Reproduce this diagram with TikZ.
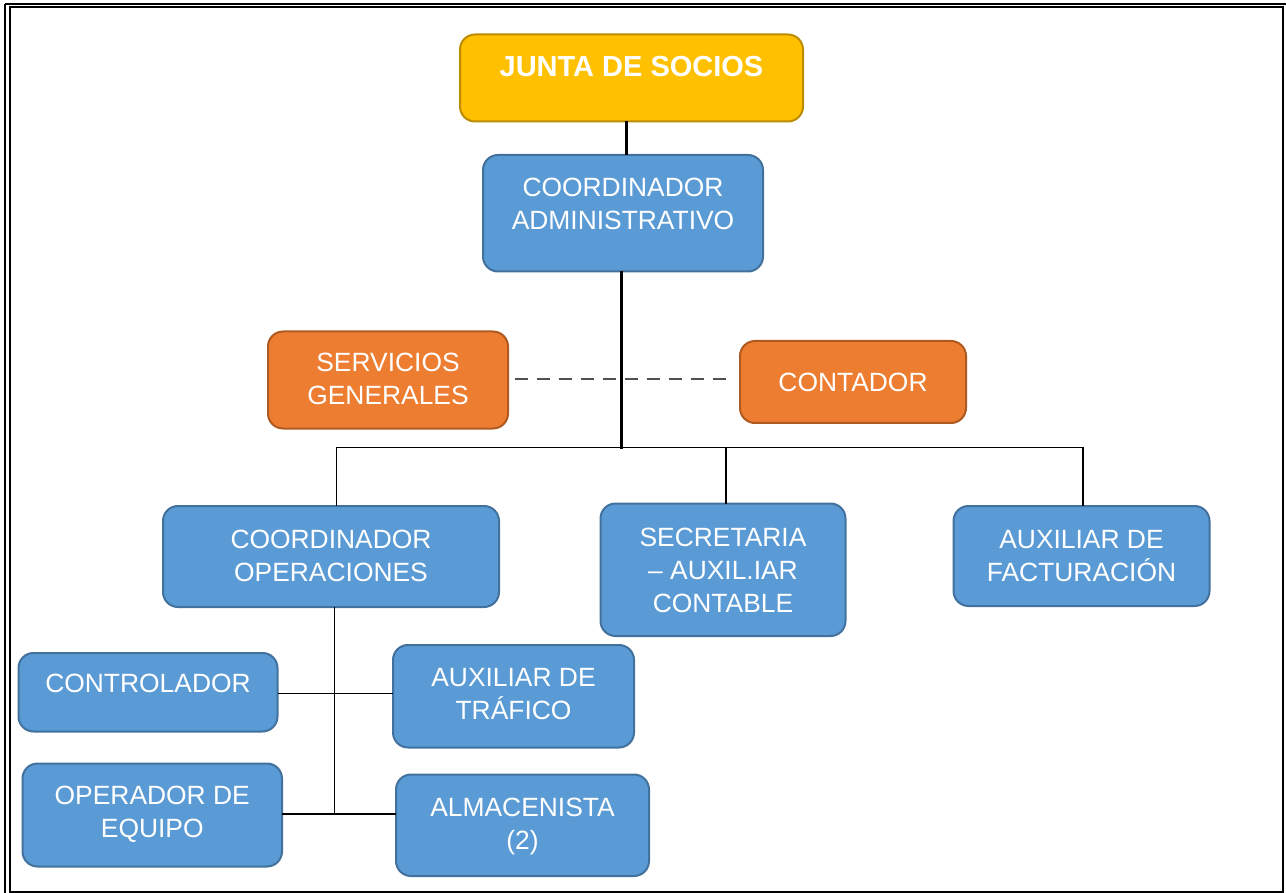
\documentclass[tikz,border=0pt]{standalone}
\usepackage{fontspec}
\setmainfont{Liberation Sans}
\definecolor{boxblue}{HTML}{5B9BD5}
\definecolor{boxblueline}{HTML}{41719C}
\definecolor{boxorange}{HTML}{ED7D31}
\definecolor{boxorangeline}{HTML}{AE5A21}
\definecolor{boxgold}{HTML}{FFC000}
\definecolor{boxgoldline}{HTML}{BC8C00}
\definecolor{dashgray}{HTML}{505050}
\begin{document}
\begin{tikzpicture}[x=1pt,y=-1pt,
  orgbox/.style={draw, rounded corners=15pt, line width=2pt, inner sep=0pt, outer sep=0pt},
  bluebox/.style={orgbox, fill=boxblue, draw=boxblueline},
  orangebox/.style={orgbox, fill=boxorange, draw=boxorangeline},
  goldbox/.style={orgbox, fill=boxgold, draw=boxgoldline},
  txt/.style={text=white, font=\fontsize{26.4}{33}\selectfont, inner sep=0pt, anchor=base},
  boldtxt/.style={txt, font=\fontsize{29}{34}\selectfont\bfseries},
  mainline/.style={line width=2.7pt, black},
  conn/.style={line width=1.5pt, black},
  dashline/.style={line width=2.3pt, dashgray, dash pattern=on 13pt off 9pt},
  frameline/.style={line width=2pt, black}
]
\useasboundingbox (0,0) rectangle (1286,893);
\clip (0,0) rectangle (1286,893);

% frame
\draw[frameline] (5.3,4) -- (1295,4);
\draw[frameline] (5.3,4) -- (5.3,900);
\draw[frameline] (9.7,7.5) rectangle (1282.5,891.5);

% boxes
\node[goldbox, minimum width=343pt, minimum height=87pt] (junta) at (631.5,78) {};
\node[bluebox, minimum width=280pt, minimum height=116.5pt] (admin) at (623,213.25) {};
\node[orangebox, minimum width=240pt, minimum height=97pt] (serv) at (388,380) {};
\node[orangebox, minimum width=226pt, minimum height=82pt] (cont) at (853,382) {};
\node[bluebox, minimum width=336pt, minimum height=101pt] (oper) at (331,556.5) {};
\node[bluebox, minimum width=245pt, minimum height=132.5pt] (secr) at (723,569.75) {};
\node[bluebox, minimum width=256pt, minimum height=100pt] (fact) at (1081.5,556) {};
\node[bluebox, minimum width=259pt, minimum height=78.5pt] (ctrl) at (148,692.25) {};
\node[bluebox, minimum width=241pt, minimum height=102.5pt] (traf) at (513.5,696.25) {};
\node[bluebox, minimum width=259.5pt, minimum height=103pt] (opeq) at (152.25,815) {};
\node[bluebox, minimum width=253pt, minimum height=101.5pt] (alm) at (522.5,825.25) {};

% texts
\node[boldtxt] (juntat) at (631.5,77) {JUNTA DE SOCIOS};
\node[txt] (admint) at (623,196.7) {\begin{tabular}[t]{@{}c@{}}COORDINADOR\\ADMINISTRATIVO\end{tabular}};
\node[txt] (servt) at (388,371.7) {\begin{tabular}[t]{@{}c@{}}SERVICIOS\\GENERALES\end{tabular}};
\node[txt] (contt) at (853,391.7) {CONTADOR};
\node[txt] (opert) at (331,548) {\begin{tabular}[t]{@{}c@{}}COORDINADOR\\OPERACIONES\end{tabular}};
\node[txt] (secrt) at (723,546) {\begin{tabular}[t]{@{}c@{}}SECRETARIA\\– AUXIL.IAR\\CONTABLE\end{tabular}};
\node[txt] (factt) at (1081.5,548) {\begin{tabular}[t]{@{}c@{}}AUXILIAR DE\\FACTURACIÓN\end{tabular}};
\node[txt] (ctrlt) at (148,692.7) {CONTROLADOR};
\node[txt] (traft) at (513.5,686) {\begin{tabular}[t]{@{}c@{}}AUXILIAR DE\\TRÁFICO\end{tabular}};
\node[txt] (opeqt) at (152.25,804) {\begin{tabular}[t]{@{}c@{}}OPERADOR DE\\EQUIPO\end{tabular}};
\node[txt] (almt) at (522.5,816) {\begin{tabular}[t]{@{}c@{}}ALMACENISTA\\(2)\end{tabular}};

% connectors
\coordinate (hub) at (621.7,449);
\coordinate (bus) at (0,447.5);
\draw[mainline] ([xshift=3.7pt]admin.north) -- ([xshift=3.7pt]admin.north |- junta.south);
\draw[mainline] (hub |- admin.south) -- (hub);
\draw[conn] ([xshift=5.7pt]oper.north) |- ([xshift=1.5pt]fact.north |- bus) -- ([xshift=1.5pt]fact.north);
\draw[conn] ([xshift=3pt]secr.north) -- ([xshift=3pt]secr.north |- bus);
\draw[dashline] ([xshift=6.6pt,yshift=0.7pt]serv.east) -- ([xshift=-7pt,yshift=0.7pt]serv.east -| cont.west);
\draw[conn] ([xshift=3.5pt]oper.south) -- ([xshift=3.5pt,yshift=1pt]oper.south |- opeq.east);
\draw[conn] ([yshift=-1pt]ctrl.east) -- ([yshift=-1pt]ctrl.east -| traf.west);
\draw[conn] ([yshift=1pt]opeq.east) -- ([yshift=1pt]opeq.east -| alm.west);
\end{tikzpicture}
\end{document}
